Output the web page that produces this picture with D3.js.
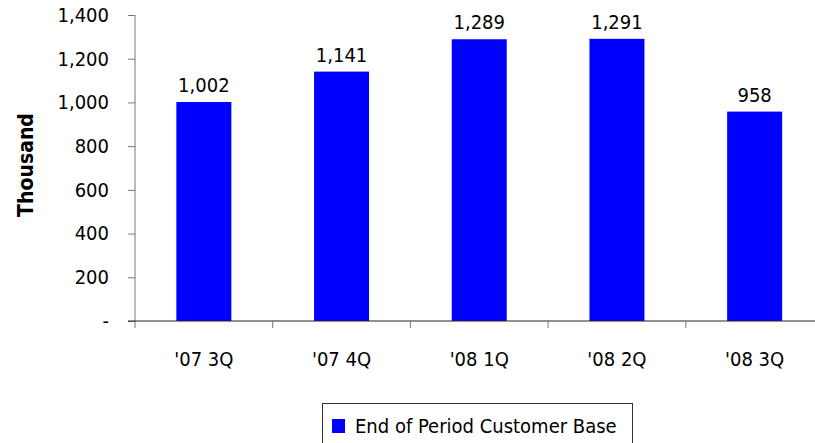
<!DOCTYPE html>
<html><head><meta charset="utf-8">
<script src="https://cdn.jsdelivr.net/npm/d3@7"></script>
<style>
html,body{margin:0;padding:0;background:#fff;}
text{font-family:"DejaVu Sans Condensed","DejaVu Sans",sans-serif;}
</style></head>
<body>
<svg id="chart" width="815" height="443"></svg>
<script>
const categories = ["'07 3Q","'07 4Q","'08 1Q","'08 2Q","'08 3Q"];
const values = [1002,1141,1289,1291,958];
const yTicks = [0,200,400,600,800,1000,1200,1400];
const seriesName = "End of Period Customer Base";
const yTitle = "Thousand";

(function(){
const svg = d3.select("#chart");
const mLeft = 135, mRight = 823.5, mTop = 15, mBottom = 321;
const fmt = d3.format(",");
const FF = '"DejaVu Sans Condensed","DejaVu Sans",sans-serif';
const FS = 20;

const xb = d3.scaleBand().domain(categories).range([mLeft, mRight]);
const y = d3.scaleLinear().domain([0,1400]).range([mBottom, mTop]);

// bars
svg.selectAll("rect.bar").data(values).enter().append("rect")
  .attr("class","bar")
  .attr("x",(d,i)=>xb(categories[i]) + xb.bandwidth()/2 - 27.5)
  .attr("width",55)
  .attr("y",d=>y(d))
  .attr("height",d=>mBottom - y(d))
  .attr("fill","#0000ff");

// value labels
svg.selectAll("text.val").data(values).enter().append("text")
  .attr("class","val")
  .attr("x",(d,i)=>xb(categories[i]) + xb.bandwidth()/2)
  .attr("y",d=>y(d) - 10)
  .attr("text-anchor","middle")
  .attr("font-size",FS)
  .attr("fill","#000")
  .text(d=>fmt(d));

// y axis
const yAxis = d3.axisLeft(y).tickValues(yTicks).tickSize(7).tickPadding(19)
  .tickFormat(d=> d===0 ? "-" : fmt(d));
const gy = svg.append("g").attr("transform",`translate(${mLeft},0)`).call(yAxis);
gy.select(".domain").remove();
gy.selectAll(".tick line").attr("stroke","#777");
gy.selectAll(".tick text").attr("font-size",FS).attr("fill","#000").attr("font-family",FF);
svg.append("line").attr("x1",mLeft).attr("x2",mLeft).attr("y1",mTop).attr("y2",mBottom+7)
  .attr("stroke","#777").attr("stroke-width",1);

// x axis
const xAxis = d3.axisBottom(xb).tickSize(0).tickPadding(31);
const gx = svg.append("g").attr("transform",`translate(0,${mBottom})`).call(xAxis);
gx.select(".domain").remove();
gx.selectAll(".tick text").attr("font-size",FS).attr("fill","#000").attr("font-family",FF);
svg.append("line").attr("x1",mLeft-7).attr("x2",815).attr("y1",mBottom).attr("y2",mBottom)
  .attr("stroke","#222").attr("stroke-width",1);
const bounds = categories.map(c=>xb(c)).filter(v=>v>mLeft);
svg.selectAll("line.xt").data(bounds).enter().append("line")
  .attr("class","xt")
  .attr("x1",d=>d).attr("x2",d=>d).attr("y1",mBottom).attr("y2",mBottom+7)
  .attr("stroke","#777");

// y title
svg.append("text")
  .attr("transform",`translate(33,165) rotate(-90)`)
  .attr("text-anchor","middle")
  .attr("font-size",21).attr("font-weight","bold").attr("font-family",FF)
  .text(yTitle);

// legend
const lg = svg.append("g");
lg.append("rect").attr("x",322.5).attr("y",403.5).attr("width",310).attr("height",50)
  .attr("fill","#fff").attr("stroke","#333");
lg.append("rect").attr("x",332).attr("y",419).attr("width",13).attr("height",14).attr("fill","#0000ff");
lg.append("text").attr("x",355).attr("y",433).attr("font-size",FS).attr("fill","#000").text(seriesName);
})();
</script>
</body></html>
